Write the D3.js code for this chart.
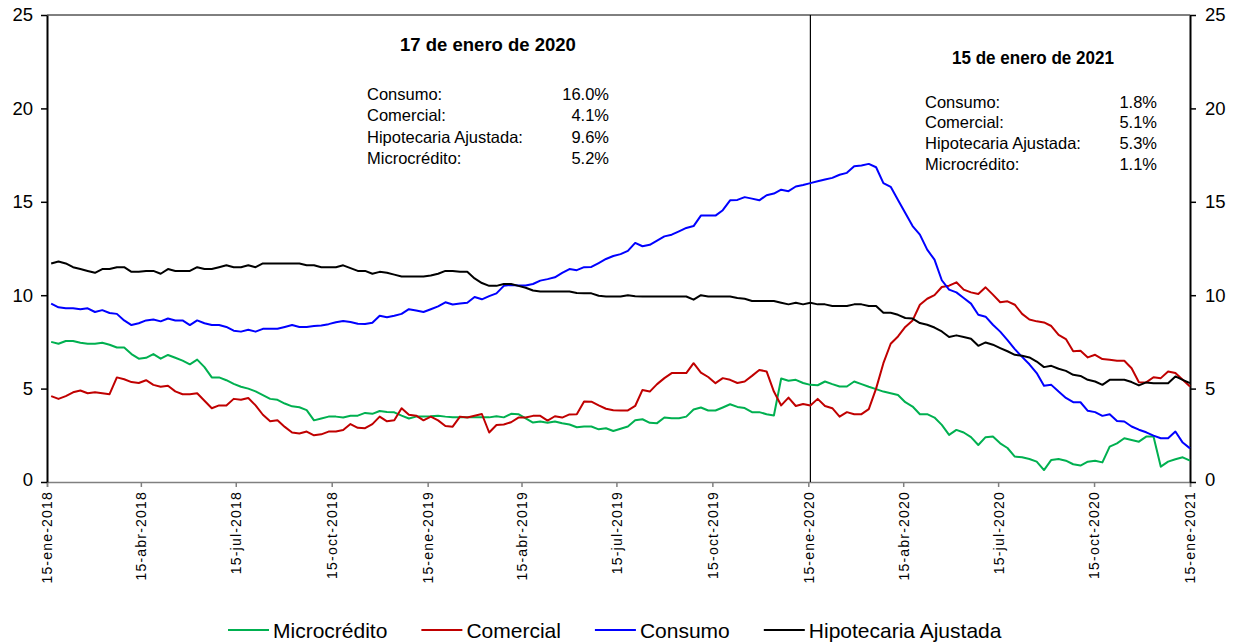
<!DOCTYPE html>
<html>
<head>
<meta charset="utf-8">
<script src="https://cdn.jsdelivr.net/npm/d3@7"></script>
<style>
  body { margin: 0; background: #fff; }
  svg { display: block; font-family: "Liberation Sans", Arial, sans-serif; }
</style>
</head>
<body>
<svg id="chart" width="1240" height="643"></svg>
<script>
// weekly (Friday) observations, 19-ene-2018 .. 15-ene-2021
const firstWeek = new Date(2018, 0, 19);
const lastWeek = new Date(2021, 0, 15);
const markerDate = new Date(2020, 0, 17);

const tickLabels = [
  "15-ene-2018", "15-abr-2018", "15-jul-2018", "15-oct-2018",
  "15-ene-2019", "15-abr-2019", "15-jul-2019", "15-oct-2019",
  "15-ene-2020", "15-abr-2020", "15-jul-2020", "15-oct-2020", "15-ene-2021"
];
const monthNames = ["ene", "feb", "mar", "abr", "may", "jun", "jul", "ago", "sep", "oct", "nov", "dic"];
const yTicks = [0, 5, 10, 15, 20, 25];

const microcredito = [
  7.5, 7.4, 7.55, 7.55, 7.45, 7.4, 7.4, 7.45, 7.35, 7.2, 7.2, 6.85, 6.6, 6.65, 6.85, 6.6, 6.8, 6.65, 6.5, 6.3,
  6.55, 6.15, 5.6, 5.6, 5.45, 5.25, 5.1, 5.0, 4.85, 4.65, 4.45, 4.4, 4.2,
  4.05, 4.0, 3.85, 3.3, 3.4, 3.5, 3.5, 3.45, 3.55, 3.55, 3.7, 3.65, 3.8, 3.75, 3.73, 3.55, 3.4, 3.5, 3.5, 3.52,
  3.55, 3.5, 3.46, 3.46, 3.46, 3.46, 3.46, 3.46, 3.52, 3.46,
  3.65, 3.63, 3.41, 3.18, 3.24, 3.17, 3.24, 3.15, 3.08, 2.93, 2.97, 2.97, 2.82, 2.88, 2.73, 2.85, 2.97, 3.3, 3.36, 3.17,
  3.15, 3.45, 3.41, 3.41, 3.5, 3.88, 3.99, 3.83, 3.83, 3.99, 4.16, 4.02,
  3.96, 3.74, 3.74, 3.63, 3.56, 5.54, 5.42, 5.47, 5.3, 5.2, 5.18, 5.38, 5.24, 5.11, 5.11, 5.38, 5.24, 5.1, 4.97, 4.84,
  4.75, 4.66, 4.27, 4.04, 3.63, 3.63, 3.45, 3.06, 2.52, 2.79, 2.65, 2.4,
  1.98, 2.4, 2.43, 2.07, 1.82, 1.36, 1.32, 1.23, 1.09, 0.64, 1.18, 1.23, 1.14, 0.95, 0.88, 1.09, 1.14, 1.05, 1.89, 2.07,
  2.34, 2.25, 2.16, 2.43, 2.43, 0.82, 1.09, 1.22, 1.32, 1.14
];
const comercial = [
  4.6, 4.45, 4.6, 4.8, 4.9, 4.75, 4.8, 4.75, 4.7, 5.6, 5.5, 5.35, 5.3, 5.45, 5.2, 5.1, 5.15, 4.85, 4.7, 4.7,
  4.75, 4.35, 3.95, 4.1, 4.1, 4.45, 4.4, 4.5, 4.1, 3.6, 3.25, 3.3, 2.95,
  2.65, 2.6, 2.7, 2.5, 2.55, 2.7, 2.7, 2.78, 3.1, 2.9, 2.88, 3.1, 3.5, 3.25, 3.3, 3.95, 3.6, 3.55, 3.3, 3.5,
  3.3, 3.0, 2.96, 3.5, 3.45, 3.55, 3.64, 2.65, 3.05, 3.08,
  3.2, 3.45, 3.45, 3.54, 3.54, 3.29, 3.52, 3.45, 3.62, 3.63, 4.31, 4.3, 4.1, 3.92, 3.84, 3.83, 3.83, 4.07, 4.93, 4.84,
  5.24, 5.56, 5.83, 5.83, 5.83, 6.36, 5.86, 5.62, 5.29, 5.56, 5.47, 5.3,
  5.38, 5.68, 6.0, 5.92, 4.84, 4.1, 4.52, 4.07, 4.18, 4.1, 4.45, 4.07, 3.95, 3.5, 3.74, 3.63, 3.63, 3.9, 5.0, 6.36,
  7.4, 7.79, 8.3, 8.65, 9.49, 9.81, 10.0, 10.44, 10.51, 10.69, 10.3, 10.15,
  10.06, 10.42, 10.03, 9.62, 9.67, 9.49, 9.0, 8.7, 8.6, 8.54, 8.35, 7.88, 7.65, 7.0, 7.02, 6.67, 6.81, 6.58, 6.54, 6.49,
  6.49, 6.09, 5.34, 5.33, 5.61, 5.56, 5.92, 5.83, 5.47, 5.11
];
const consumo = [
  9.55, 9.35, 9.3, 9.3, 9.25, 9.3, 9.1, 9.2, 9.05, 9.0, 8.65, 8.4, 8.5, 8.65, 8.7, 8.6, 8.75, 8.65, 8.65, 8.4,
  8.65, 8.5, 8.4, 8.4, 8.3, 8.1, 8.05, 8.15, 8.05, 8.2, 8.2, 8.2, 8.3,
  8.4, 8.3, 8.3, 8.35, 8.38, 8.45, 8.55, 8.62, 8.57, 8.47, 8.46, 8.53, 8.9, 8.82, 8.9, 9.0, 9.25, 9.18, 9.1, 9.25,
  9.4, 9.62, 9.5, 9.55, 9.6, 9.9, 9.78, 9.95, 10.1, 10.5,
  10.55, 10.52, 10.52, 10.6, 10.78, 10.86, 10.96, 11.19, 11.4, 11.34, 11.5, 11.51, 11.72, 11.94, 12.1, 12.2, 12.37, 12.8, 12.62, 12.7,
  12.92, 13.15, 13.24, 13.42, 13.6, 13.7, 14.26, 14.26, 14.26, 14.55, 15.08, 15.1,
  15.25, 15.17, 15.08, 15.35, 15.44, 15.65, 15.57, 15.82, 15.9, 16.0, 16.1, 16.19, 16.28, 16.45, 16.55, 16.9, 16.94, 17.03, 16.85, 16.0,
  15.8, 15.1, 14.4, 13.7, 13.24, 12.44, 11.9, 10.8, 10.3, 10.15, 9.85, 9.55,
  8.95, 8.85, 8.42, 8.05, 7.6, 7.11, 6.7, 6.3, 5.83, 5.15, 5.2, 4.84, 4.5, 4.27, 4.27, 3.81, 3.74, 3.54, 3.63, 3.27,
  3.24, 2.97, 2.8, 2.66, 2.48, 2.34, 2.34, 2.7, 2.11, 1.8
];
const hipotecaria = [
  11.7, 11.8, 11.7, 11.5, 11.4, 11.3, 11.2, 11.4, 11.4, 11.5, 11.5, 11.25, 11.25, 11.3, 11.3, 11.15, 11.4, 11.3, 11.3, 11.3,
  11.5, 11.4, 11.4, 11.5, 11.6, 11.5, 11.5, 11.6, 11.5, 11.7, 11.7, 11.7, 11.7,
  11.7, 11.7, 11.6, 11.6, 11.5, 11.5, 11.5, 11.6, 11.45, 11.3, 11.3, 11.15, 11.25, 11.2, 11.1, 11.0, 11.0, 11.0, 11.0, 11.05,
  11.15, 11.3, 11.3, 11.25, 11.25, 10.9, 10.65, 10.5, 10.5, 10.6,
  10.6, 10.5, 10.4, 10.25, 10.2, 10.2, 10.2, 10.2, 10.2, 10.12, 10.1, 10.1, 9.97, 9.93, 9.93, 9.93, 10.0, 9.95, 9.93, 9.93,
  9.93, 9.93, 9.93, 9.93, 9.93, 9.76, 10.0, 9.93, 9.93, 9.93, 9.93, 9.85,
  9.81, 9.69, 9.69, 9.69, 9.69, 9.6, 9.51, 9.6, 9.51, 9.6, 9.51, 9.51, 9.42, 9.42, 9.42, 9.51, 9.51, 9.42, 9.42, 9.06,
  9.06, 8.95, 8.78, 8.75, 8.51, 8.42, 8.27, 8.06, 7.76, 7.85, 7.76, 7.67,
  7.29, 7.47, 7.35, 7.17, 7.0, 6.81, 6.76, 6.67, 6.45, 6.15, 6.22, 6.06, 5.95, 5.74, 5.68, 5.47, 5.38, 5.2, 5.47, 5.47,
  5.47, 5.35, 5.17, 5.33, 5.29, 5.29, 5.29, 5.65, 5.47, 5.29
];

const seriesNames = ["Microcrédito", "Comercial", "Consumo", "Hipotecaria Ajustada"];
const seriesColors = ["#00b050", "#c00000", "#0000ff", "#000000"];

const notes = [
  {
    title: "17 de enero de 2020",
    rows: [["Consumo:", "16.0%"], ["Comercial:", "4.1%"], ["Hipotecaria Ajustada:", "9.6%"], ["Microcrédito:", "5.2%"]]
  },
  {
    title: "15 de enero de 2021",
    rows: [["Consumo:", "1.8%"], ["Comercial:", "5.1%"], ["Hipotecaria Ajustada:", "5.3%"], ["Microcrédito:", "1.1%"]]
  }
];

function parseLabel(s) {
  const [d, m, y] = s.split("-");
  return new Date(+y, monthNames.indexOf(m), +d);
}

function render() {
  const svg = d3.select("#chart");
  const margin = { top: 15, right: 50, bottom: 161, left: 47 };
  const width = 1240, height = 643;

  const weeks = d3.timeFriday.range(firstWeek, d3.timeDay.offset(lastWeek, 1));
  const series = [microcredito, comercial, consumo, hipotecaria];

  const x = d3.scaleTime()
    .domain([parseLabel(tickLabels[0]), parseLabel(tickLabels[tickLabels.length - 1])])
    .range([margin.left, width - margin.right]);
  const y = d3.scaleLinear().domain([0, 25]).range([height - margin.bottom, margin.top]);

  // frame top
  svg.append("line")
    .attr("x1", x.range()[0]).attr("x2", x.range()[1])
    .attr("y1", y(25)).attr("y2", y(25))
    .attr("stroke", "#000").attr("stroke-width", 1);

  // x axis
  const xAxis = svg.append("g")
    .attr("transform", `translate(0,${y(0)})`)
    .call(d3.axisBottom(x).tickValues(tickLabels.map(parseLabel)).tickSize(5).tickFormat((d, i) => tickLabels[i]));
  xAxis.select(".domain").attr("stroke", "#808080").attr("stroke-width", 1.5);
  xAxis.selectAll(".tick line").attr("stroke", "#808080").attr("stroke-width", 1.5);
  xAxis.selectAll(".tick text")
    .attr("transform", "rotate(-90)")
    .attr("x", -9).attr("y", 0).attr("dy", "0.35em")
    .attr("text-anchor", "end")
    .attr("fill", "#000")
    .style("font-size", "14px")
    .style("letter-spacing", "1.2px");

  // left and right y axes
  const yLeft = svg.append("g")
    .attr("transform", `translate(${x.range()[0]},0)`)
    .call(d3.axisLeft(y).tickValues(yTicks).tickSize(6).tickPadding(8).tickSizeOuter(0));
  const yRight = svg.append("g")
    .attr("transform", `translate(${x.range()[1]},0)`)
    .call(d3.axisRight(y).tickValues(yTicks).tickSize(6).tickPadding(9).tickSizeOuter(0));
  [yLeft, yRight].forEach((g) => {
    g.select(".domain").attr("stroke", "#000").attr("stroke-width", 2);
    g.selectAll(".tick line").attr("stroke", "#000").attr("stroke-width", 1.5);
    g.selectAll(".tick text").attr("fill", "#000").style("font-size", "18.5px");
  });
  yLeft.selectAll(".tick text").filter((d) => d === 0).attr("dy", "0.2em");
  yRight.selectAll(".tick text").filter((d) => d === 0).attr("dy", "0.2em");

  // marker line at 17-ene-2020
  svg.append("line")
    .attr("x1", x(markerDate)).attr("x2", x(markerDate))
    .attr("y1", y(25)).attr("y2", y(0))
    .attr("stroke", "#000").attr("stroke-width", 1.2);

  const line = d3.line()
    .x((d, i) => x(weeks[i]))
    .y((d) => y(d));

  svg.append("g").selectAll("path")
    .data(series)
    .join("path")
    .attr("d", line)
    .attr("fill", "none")
    .attr("stroke", (d, i) => seriesColors[i])
    .attr("stroke-width", 2)
    .attr("stroke-linejoin", "round");

  // annotation boxes
  const noteLayout = [
    { cx: 488, titleY: 51, left: 367, right: 609, rowY: 99.5, step: 21.5 },
    { cx: 1033, titleY: 64, left: 925, right: 1157, rowY: 107.5, step: 20.8 }
  ];
  notes.forEach((n, k) => {
    const L = noteLayout[k];
    const g = svg.append("g");
    const t = g.append("text")
      .attr("x", L.cx).attr("y", L.titleY)
      .attr("text-anchor", "middle")
      .style("font-size", "18.5px").style("font-weight", "bold")
      .text(n.title);
    if (k === 1) t.attr("textLength", 162).attr("lengthAdjust", "spacingAndGlyphs");
    n.rows.forEach((r, j) => {
      g.append("text").attr("x", L.left).attr("y", L.rowY + j * L.step)
        .style("font-size", "16.5px").text(r[0]);
      g.append("text").attr("x", L.right).attr("y", L.rowY + j * L.step)
        .attr("text-anchor", "end").style("font-size", "16.5px").text(r[1]);
    });
  });

  // legend
  const legend = svg.append("g").attr("transform", "translate(228,630)");
  let cursor = 0;
  seriesNames.forEach((name, i) => {
    legend.append("line")
      .attr("x1", cursor).attr("x2", cursor + 41)
      .attr("y1", 0).attr("y2", 0)
      .attr("stroke", seriesColors[i]).attr("stroke-width", 2);
    const txt = legend.append("text")
      .attr("x", cursor + 45).attr("y", 0).attr("dy", "0.36em")
      .style("font-size", "21px")
      .text(name);
    cursor += 45 + txt.node().getComputedTextLength() + 34;
  });
}

render();
</script>
</body>
</html>
